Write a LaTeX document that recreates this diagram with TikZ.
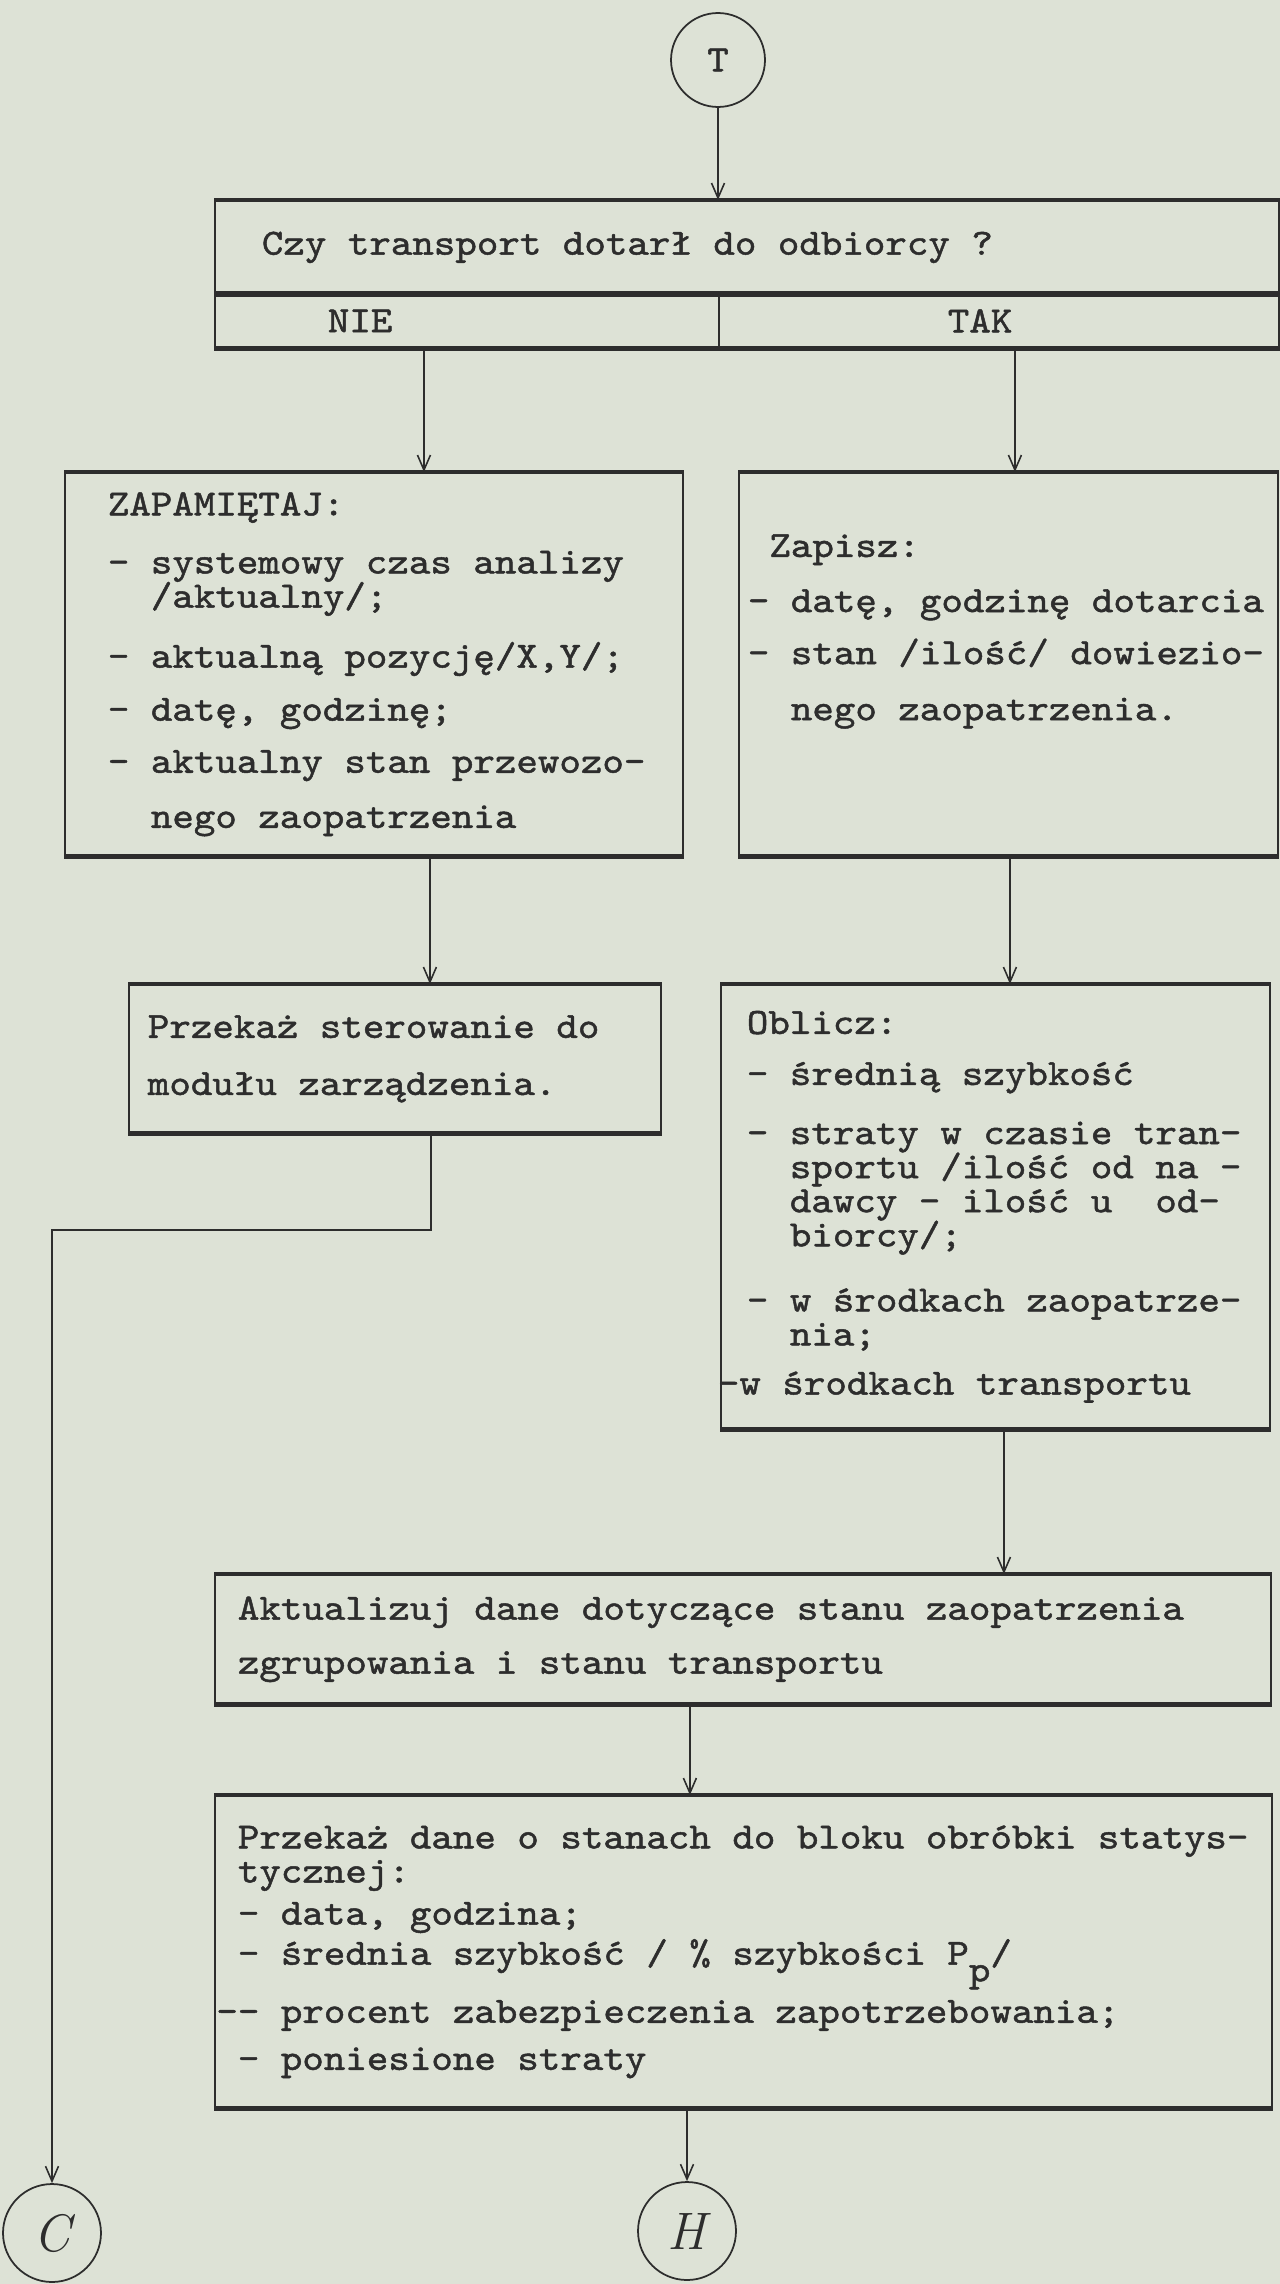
\documentclass[tikz,border=0pt]{standalone}
\usepackage{fontspec}
\setmonofont{lmmono10-regular.otf}[FakeBold=1.3, FakeStretch=1.11]
\usetikzlibrary{arrows.meta}
\definecolor{papier}{RGB}{221,226,214}
\definecolor{tusz}{RGB}{45,45,45}
\tikzset{
  blok/.style={draw=tusz, line width=1pt, anchor=north west, align=left,
    inner xsep=0pt, inner ysep=0pt, text=tusz,
    font={\ttfamily\fontsize{21}{19.4}\selectfont\lineskiplimit=-30pt},
    execute at begin node={\leftskip=#1\spaceskip=\fontcharwd\font`M
      \xspaceskip=\spaceskip\relax}},
  blok/.default=0.5cm,
  kolko/.style={circle, draw=tusz, line width=1pt, minimum size=1.88cm,
    inner sep=0pt, text=tusz, font={\ttfamily\fontsize{21}{21}\selectfont}},
  strz/.style={draw=tusz, line width=0.9pt, -{Straight Barb[length=3mm,width=2.6mm]}},
  krawedz/.style={draw=tusz, line width=2.6pt}
}
\begin{document}
\begin{tikzpicture}[x=0.02cm,y=-0.02cm]
\useasboundingbox (0,0) rectangle (1280,2284);
\fill[papier] (0,0) rectangle (1280,2284);

\node[kolko] (T) at (718,60) {T};
\node[blok=0.94cm, text width=21.28cm, minimum height=1.86cm] (q) at (214,200)
  {Czy transport dotarł do odbiorcy ?};
\node[blok=2.26cm, text width=10.08cm, minimum height=1.08cm] (nie) at (214,293) {NIE};
\node[blok=4.58cm, text width=11.2cm, minimum height=1.08cm] (tak) at (718,293) {TAK};

\node[blok=0.86cm, text width=12.36cm, minimum height=7.66cm] (zap) at (64,472) {%
ZAPAMIĘTAJ:\\[0.48cm]
- systemowy czas analizy\\
~~/aktualny/;\\[0.52cm]
- aktualną pozycję/X,Y/;\\[0.38cm]
- datę, godzinę;\\[0.36cm]
- aktualny stan przewozo-\\[0.42cm]
~~nego zaopatrzenia};
\node[blok=0.18cm, text width=10.78cm, minimum height=7.66cm] (zapisz) at (738,472) {%
~Zapisz:\\[0.42cm]
- datę, godzinę dotarcia\\[0.36cm]
- stan /ilość/ dowiezio-\\[0.44cm]
~~nego zaopatrzenia.\\[0.8cm]\mbox{}};

\node[blok=0.38cm, text width=10.64cm, minimum height=2.96cm] (przekaz) at (128,984) {%
Przekaż sterowanie do\\[0.46cm]
modułu zarządzenia.};
\node[blok=0.52cm, text width=10.98cm, minimum height=8.88cm] (oblicz) at (720,984) {%
Oblicz:\\[0.34cm]
- średnią szybkość\\[0.5cm]
- straty w czasie tran-\\
~~sportu /ilość od na -\\
~~dawcy - ilość u~ od-\\
~~biorcy/;\\[0.62cm]
- w środkach zaopatrze-\\
~~nia;\\[0.3cm]
\hspace*{-0.58cm}-w środkach transportu};

\node[blok=0.46cm, text width=21.12cm, minimum height=2.58cm] (akt) at (214,1574) {%
Aktualizuj dane dotyczące stanu zaopatrzenia\\[0.4cm]
zgrupowania i stanu transportu};
\node[blok=0.46cm, text width=21.14cm, minimum height=6.24cm] (dane) at (214,1795) {%
Przekaż dane o stanach do bloku obróbki statys-\\
tycznej:\\[0.16cm]
- data, godzina;\\[0.12cm]
- średnia szybkość / \% szybkości P\raisebox{-0.45em}{p}/\\[0.48cm]
\hspace*{-\fontcharwd\font`M}-{}- procent zabezpieczenia zapotrzebowania;\\[0.26cm]
- poniesione straty};

\node[kolko, minimum size=1.96cm, font={\rmfamily\itshape\fontsize{30}{30}\selectfont}] (C) at (52,2233) {C};
\node[kolko, minimum size=1.96cm, font={\rmfamily\itshape\fontsize{30}{30}\selectfont}] (H) at (687,2231) {H};

% grube krawedzie gora / dol
\foreach \b in {q,nie,tak,zap,zapisz,przekaz,oblicz,akt,dane}
  \draw[krawedz] (\b.north west) -- (\b.north east) (\b.south west) -- (\b.south east);

% polaczenia
\coordinate (nieout) at ([xshift=4.2cm]nie.south west);
\coordinate (takout) at ([xshift=5.94cm]tak.south west);
\coordinate (zapout) at ([xshift=7.32cm]zap.south west);
\coordinate (zapisout) at ([xshift=5.44cm]zapisz.south west);
\coordinate (przout) at ([xshift=6.06cm]przekaz.south west);
\coordinate (obout) at ([xshift=5.68cm]oblicz.south west);
\coordinate (aktout) at ([xshift=9.52cm]akt.south west);

\draw[strz] (T) -- (T |- q.north);
\draw[strz] (nieout) -- (nieout |- zap.north);
\draw[strz] (takout) -- (takout |- zapisz.north);
\draw[strz] (zapout) -- (zapout |- przekaz.north);
\draw[strz] (zapisout) -- (zapisout |- oblicz.north);
\draw[strz] (przout) -- ++(0,96) -| (C.north);
\draw[strz] (obout) -- (obout |- akt.north);
\draw[strz] (aktout) -- (aktout |- dane.north);
\draw[strz] (H.north |- dane.south) -- (H);
\end{tikzpicture}
\end{document}
